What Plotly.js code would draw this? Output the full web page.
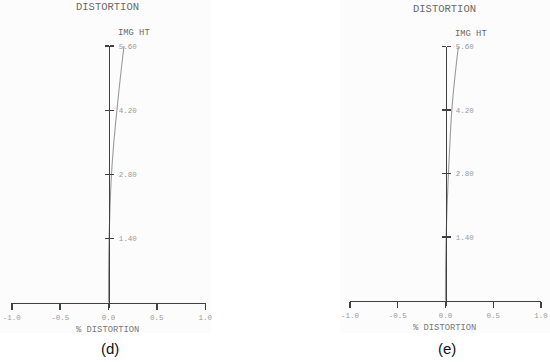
<!DOCTYPE html>
<html>
<head>
<meta charset="utf-8">
<script src="https://cdn.plot.ly/plotly-3.0.1.min.js"></script>
<style>html,body{margin:0;padding:0;background:#fff;}#chart{width:550px;height:362px;}</style>
</head>
<body>
<div id="chart"></div>
<script>
// Data
var imgHt = [0, 0.7, 1.4, 2.1, 2.8, 3.5, 4.2, 4.9, 5.6];
var distD = [0, 0.001, 0.006, 0.016, 0.031, 0.055, 0.087, 0.122, 0.16];
var distE = [0, 0.001, 0.007, 0.017, 0.031, 0.047, 0.066, 0.097, 0.135];
var xTickVals = [-1.0, -0.5, 0.0, 0.5, 1.0];
var xTickText = ['-1.0', '-0.5', '0.0', '0.5', '1.0'];
var yTickVals = [1.4, 2.8, 4.2, 5.6];
var yTickText = ['1.40', '2.80', '4.20', '5.60'];
var panelLabels = ['(d)', '(e)'];

var W = 550, H = 362;
function px(x){ return x / W; }
function py(y){ return 1 - y / H; }

var mono = 'Liberation Mono, Courier New, monospace';
var curveColor = '#9a9a9a';
var axisColor = '#404040';
var labelColor = '#9a9a9a';

// panel geometry (pixels)
var panels = [
  {x0: 11.8, x1: 205.2, yZero: 302.5, yTop: 46.0, data: distD},
  {x0: 350.0, x1: 541.0, yZero: 300.5, yTop: 46.5, data: distE}
];

var traces = [];
var layout = {
  width: W, height: H,
  margin: {l: 0, r: 0, t: 0, b: 0},
  paper_bgcolor: '#ffffff',
  plot_bgcolor: 'rgba(0,0,0,0)',
  showlegend: false,
  annotations: [],
  shapes: []
};

var yMin = -0.12;
var xPad = 0.004;
panels.forEach(function(p, i){
  var xa = i === 0 ? 'x' : 'x2';
  var ya = i === 0 ? 'y' : 'y2';
  var yb = i === 0 ? 'y3' : 'y4';
  var xKey = i === 0 ? 'xaxis' : 'xaxis2';
  var yKey = i === 0 ? 'yaxis' : 'yaxis2';
  var ybKey = i === 0 ? 'yaxis3' : 'yaxis4';
  var pxPerUnitY = (p.yZero - p.yTop) / 5.6;
  var yBottomPx = p.yZero - yMin * pxPerUnitY;
  var xMidPx = (p.x0 + p.x1) / 2;
  var pxPerUnitX = (p.x1 - p.x0) / 2;

  traces.push({
    x: p.data, y: imgHt, xaxis: xa, yaxis: ya,
    type: 'scatter', mode: 'lines',
    line: {color: curveColor, width: 1.1, shape: 'spline'},
    hoverinfo: 'skip'
  });

  layout[xKey] = {
    domain: [px(p.x0 - xPad * pxPerUnitX), px(p.x1 + xPad * pxPerUnitX)],
    range: [-1 - xPad, 1 + xPad],
    anchor: 'free',
    position: py(p.yZero),
    showgrid: false, zeroline: false,
    showline: true, linecolor: axisColor, linewidth: 1.5,
    ticks: 'outside', ticklen: 6, tickwidth: 1.4, tickcolor: axisColor,
    tickvals: xTickVals, ticktext: xTickText,
    tickfont: {family: mono, size: 7.5, color: labelColor},
    ticklabelstandoff: 1,
    fixedrange: true
  };

  layout[yKey] = {
    domain: [py(yBottomPx), py(p.yTop)],
    range: [yMin, 5.6],
    anchor: 'free',
    position: px(xMidPx),
    side: 'right',
    showgrid: false, zeroline: false,
    showline: true, linecolor: axisColor, linewidth: 1.7,
    ticks: 'outside', ticklen: 4, tickwidth: 1.2, tickcolor: axisColor,
    tickvals: yTickVals, ticktext: yTickText,
    tickfont: {family: mono, size: 7.5, color: labelColor},
    ticklabelstandoff: 3,
    fixedrange: true
  };
  layout[ybKey] = {
    domain: [py(yBottomPx), py(p.yTop)],
    range: [yMin, 5.6],
    overlaying: ya,
    anchor: 'free',
    position: px(xMidPx),
    side: 'left',
    showgrid: false, zeroline: false, showline: false,
    ticks: 'outside', ticklen: 4, tickwidth: 1.2, tickcolor: axisColor,
    tickvals: yTickVals, showticklabels: false,
    fixedrange: true
  };
  traces.push({x: [null], y: [null], xaxis: xa, yaxis: yb, type: 'scatter', mode: 'lines', hoverinfo: 'skip'});

  layout.annotations.push(
    {text: 'DISTORTION', xref: 'paper', yref: 'paper', x: px(xMidPx - 1), y: py(i === 0 ? 7.5 : 9.3),
     showarrow: false, xanchor: 'center', yanchor: 'middle',
     font: {family: mono, size: 10.5, color: '#6a6a6a'}},
    {text: 'IMG HT', xref: 'paper', yref: 'paper', x: px(xMidPx + 7), y: py(i === 0 ? 33 : 34),
     showarrow: false, xanchor: 'left', yanchor: 'middle',
     font: {family: mono, size: 8.8, color: '#6a6a6a'}},
    {text: '% DISTORTION', xref: 'paper', yref: 'paper', x: px(xMidPx - 1), y: py(i === 0 ? 330 : 328),
     showarrow: false, xanchor: 'center', yanchor: 'middle',
     font: {family: mono, size: 8.8, color: '#7a7a7a'}},
    {text: panelLabels[i], xref: 'paper', yref: 'paper', x: px(xMidPx + 1), y: py(348),
     showarrow: false, xanchor: 'center', yanchor: 'middle',
     font: {family: 'Liberation Sans, Arial, sans-serif', size: 15, color: '#111111'}}
  );
});

// faint panel backgrounds
layout.shapes.push(
  {type: 'rect', xref: 'paper', yref: 'paper', x0: 0, x1: px(211), y0: py(333), y1: 1,
   fillcolor: '#fcfcfc', line: {width: 0}, layer: 'below'},
  {type: 'rect', xref: 'paper', yref: 'paper', x0: px(340), x1: 1, y0: py(333), y1: 1,
   fillcolor: '#fcfcfc', line: {width: 0}, layer: 'below'}
);

Plotly.newPlot('chart', traces, layout, {staticPlot: true, displayModeBar: false});
</script>
</body>
</html>
